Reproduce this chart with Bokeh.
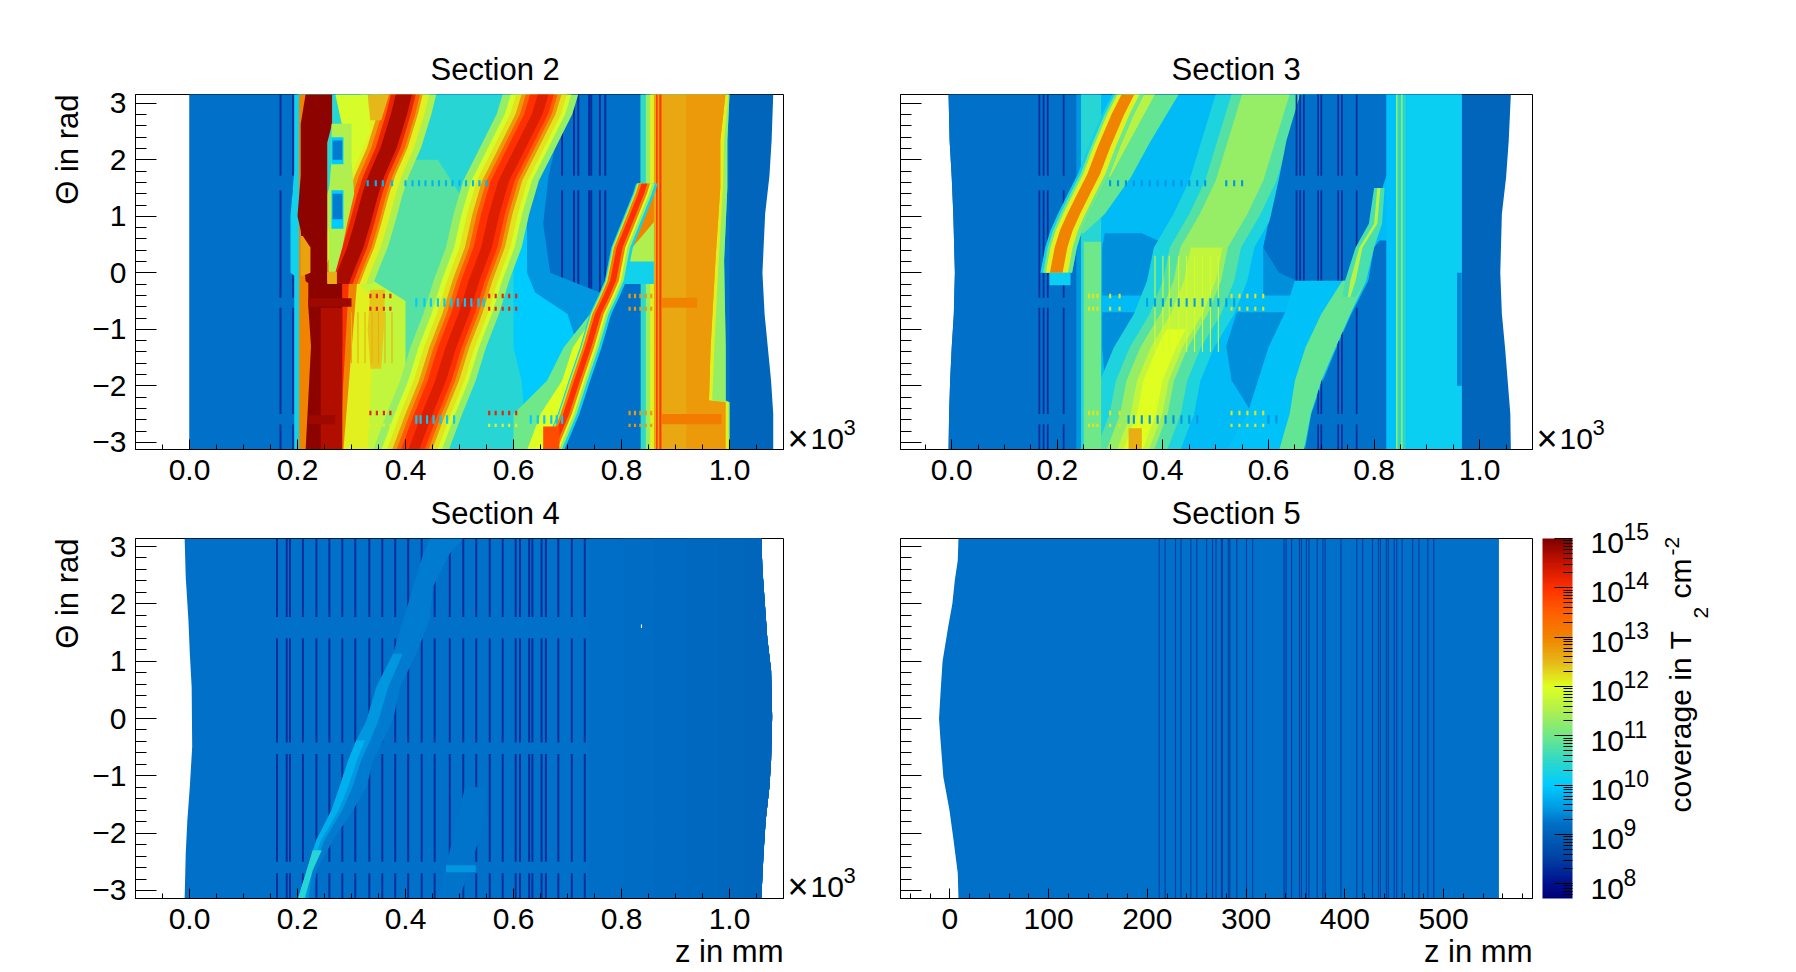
from math import pi
import numpy as np
from bokeh.embed import file_html
from bokeh.layouts import column, row
from bokeh.models import ColorBar, ColumnDataSource, FixedTicker, Label, LinearColorMapper, Range1d, NumeralTickFormatter, Title
from bokeh.plotting import figure
from bokeh.resources import INLINE
from bokeh.transform import transform

FONT = "Liberation Sans"
LOG_LOW, LOG_HIGH = 7.7, 15.0
COLOR_LOG = [7.7, 8.0, 8.5, 9.0, 9.22, 9.5, 10.0, 10.5, 11.0, 11.5, 12.0, 12.5, 13.0, 13.5, 14.0, 14.5, 15.0]
COLOR_HEX = ["#000078", "#00108C", "#0040A4", "#0062B8", "#0070C8", "#0096E0", "#00CCFF", "#30D8C8", "#70E888",
             "#AEF050", "#DFFF20", "#E6B818", "#F08400", "#FF6000", "#FF3000", "#C81400", "#800000"]

THETA_TICKS = [-3, -2, -1, 0, 1, 2, 3]
Z_TICKS = [0.0, 0.2, 0.4, 0.6, 0.8, 1.0]
Z5_TICKS = [0, 100, 200, 300, 400, 500]
COLOR_TICKS = [8, 9, 10, 11, 12, 13, 14, 15]
SECTION_NAMES = ["Section 2", "Section 3", "Section 4", "Section 5"]

GAPS_TOP = [(1.72, 1.46), (-0.44, -0.62), (-2.5, -2.68)]
GAPS_BOTTOM = [(1.77, 1.40), (-0.42, -0.62), (-2.50, -2.70)]

# ---------- Section 2 (z in 10^3 mm, theta in rad, values are log10 coverage) ----------
S2_ENV_THETA = [3.16, 2.34, 1.72, 1.04, 0, -0.73, -1.32, -1.91, -2.5, -3.14]
S2_ENV_RIGHT = [1.081, 1.078, 1.074, 1.066, 1.061, 1.065, 1.071, 1.077, 1.081, 1.081]
S2_DARK_Z = [0.1685, 0.192, 0.690, 0.712, 0.72, 0.74, 0.744, 0.76, 0.77]

S2_FILL_THETA = [3.16, 2.34, 1.72, 0.87, 0, -0.35, -0.73, -1.32, -1.91, -2.5, -3.14]
S2_BLUE_RIGHT = [0.70, 0.68, 0.665, 0.655, 0.668, 0.76, 0.755, 0.737, 0.716, 0.696, 0.675]
S2_CYAN_RIGHT = [0.685, 0.66, 0.64, 0.625, 0.625, 0.64, 0.70, 0.72, 0.70, 0.69, 0.67]
S2_TEAL_RIGHT = [0.67, 0.645, 0.625, 0.60, 0.60, 0.60, 0.60, 0.60, 0.615, 0.62, 0.60]

S2_B3_THETA = [-3.14, -2.5, -1.91, -1.32, -0.73, -0.43, -0.14, 0.45, 1.04, 1.40, 1.58]
S2_B3_C = [0.668, 0.696, 0.716, 0.737, 0.755, 0.770, 0.783, 0.795, 0.820, 0.835, 0.841]
S2_B3_LEVELS = [(10.2, 0.014, 0.026), (11.3, 0.012, 0.021), (12.0, 0.010, 0.016), (13.0, 0.009, 0.012), (14.0, 0.004, 0.007)]
S2_FAN_THETA = [-0.75, -1.32, -1.91, -2.5, -3.14]
S2_FAN_RIGHT = [0.755, 0.737, 0.716, 0.696, 0.668]
S2_FAN_GREEN_LEFT = [0.74, 0.693, 0.662, 0.60, 0.60]
S2_FAN_YELLOW_LEFT = [0.75, 0.71, 0.69, 0.65, 0.625]

S2_EDGE_THETA = [3.16, 2.34, 1.51, 0.22, -1.32, -2.26, -2.29, -3.14]
S2_EDGE_TEAL = [1.0, 0.996, 0.996, 0.99, 0.993, 0.993, 1.0, 1.0]
S2_EDGE_YELLOW = [0.998, 0.99, 0.988, 0.98, 0.972, 0.968, 0.998, 0.998]
S2_EDGE_ORANGE = [0.9926, 0.983, 0.983, 0.974, 0.965, 0.962, 0.9926, 0.9926]

S2_B2_THETA = [3.16, 2.81, 2.22, 1.63, 1.04, 0.45, -0.14, -0.73, -1.32, -1.91, -2.5, -3.14]
S2_B2_C = [0.655, 0.644, 0.613, 0.582, 0.564, 0.550, 0.527, 0.508, 0.484, 0.465, 0.44, 0.415]
S2_B2_LEVELS = [(11.3, 0.075, 0.065), (11.9, 0.06, 0.052), (12.2, 0.05, 0.044), (12.8, 0.04, 0.034), (13.5, 0.032, 0.027), (14.0, 0.024, 0.02), (14.3, 0.01, 0.01)]

S2_B1_THETA = [3.16, 2.81, 2.22, 1.72, 1.40, 0.87, 0.45, 0.1, -0.2]
S2_B1_C = [0.397, 0.388, 0.369, 0.346, 0.335, 0.32, 0.307, 0.292, 0.28]
S2_B1_LEVELS = [(11.5, 0.08, 0.06), (12.1, 0.06, 0.047), (12.8, 0.04, 0.035), (13.5, 0.032, 0.03), (14.2, 0.024, 0.022), (14.7, 0.015, 0.015)]

S2_HOT_THETA = [3.16, 2.64, 2.3, 1.72, 1.0, 0.75, -0.15, -0.18, -0.6, -1.3, -3.14]
S2_HOT_LEFT = [0.215, 0.206, 0.206, 0.206, 0.200, 0.206, 0.215, 0.22, 0.22, 0.225, 0.215]
S2_HOT_RIGHT = [0.264, 0.264, 0.255, 0.255, 0.255, 0.255, 0.255, 0.283, 0.283, 0.283, 0.27]
S2_POCKET_THETA = [2.64, 2.34, 1.99, 1.4, 0.87, 0.45, 0.0]
S2_POCKET_LEFT = [0.263, 0.263, 0.263, 0.258, 0.258, 0.258, 0.258]
S2_POCKET_RIGHT = [0.30, 0.30, 0.30, 0.305, 0.292, 0.283, 0.27]

S2_THIN_LOW_Z = [0.30, 0.312, 0.325, 0.338, 0.35, 0.362, 0.375]
S2_DASH_A = [0.33, 0.345, 0.358, 0.375, 0.40, 0.413, 0.425, 0.437, 0.45, 0.462, 0.475, 0.487, 0.50, 0.512, 0.525, 0.537, 0.55]
S2_DASH_B = [0.42, 0.435, 0.447, 0.46, 0.472, 0.485, 0.497, 0.51, 0.522, 0.535, 0.545]
S2_DASH_B_HOT = [0.335, 0.347, 0.36, 0.372, 0.555, 0.567, 0.58, 0.592, 0.605]
S2_DASH_C = [0.42, 0.428, 0.44, 0.452, 0.465, 0.477, 0.49, 0.632, 0.645, 0.657, 0.67, 0.68, 0.69]
S2_DASH_C_HOT = [0.335, 0.347, 0.36, 0.372, 0.555, 0.567, 0.58, 0.592, 0.605]
S2_DASH_RIGHT = [0.815, 0.825, 0.835, 0.845, 0.855]

# ---------- Section 3 ----------
S3_ENV_THETA = [3.16, 2.34, 1.69, 1.04, 0, -0.73, -1.32, -1.91, -2.5, -3.14]
S3_ENV_LEFT = [-0.006, -0.004, 0.0, 0.003, 0.006, 0.004, 0.0, -0.003, -0.005, -0.006]
S3_ENV_RIGHT = [1.059, 1.055, 1.05, 1.042, 1.039, 1.042, 1.048, 1.053, 1.058, 1.059]
S3_DARK_Z = [0.166, 0.174, 0.182, 0.212, 0.653, 0.66, 0.667, 0.694, 0.70, 0.732, 0.739, 0.767]

S3_BLUE_THETA = [3.16, 2.34, 1.72, 1.04, 0.45, 0.0, -0.25]
S3_BLUE_LEFT = [0.66, 0.634, 0.621, 0.605, 0.59, 0.62, 0.68]
S3_BLUE_RIGHT = [0.823, 0.823, 0.823, 0.80, 0.79, 0.77, 0.74]
S3_LOW_THETA = [0.57, 0.45, -0.14, -0.73, -1.32, -1.91, -2.5, -3.14]
S3_LOW_LEFT = [0.81, 0.80, 0.789, 0.757, 0.729, 0.703, 0.681, 0.669]

S3_NARROW_THETA = [3.16, 2.81, 2.22, 1.75, 1.40, 1.04, 0.75, 0.45, 0.0]
S3_NARROW_C = [0.334, 0.315, 0.288, 0.269, 0.25, 0.231, 0.217, 0.207, 0.198]
S3_NARROW_LEVELS = [(10.2, 0.03, 0.03), (11.0, 0.025, 0.03), (12.1, 0.02, 0.022), (13.0, 0.012, 0.012)]
S3_FLANK_THETA = [3.16, 2.3, 1.7, 1.04, 0.7]
S3_FLANK_LEFT = [0.33, 0.285, 0.26, 0.23, 0.22]
S3_FLANK_RIGHT = [0.43, 0.375, 0.34, 0.29, 0.25]

S3_WIDE_THETA = [3.16, 1.63, 1.04, 0.45, -0.14, -0.73, -1.32, -1.91, -2.5, -3.14]
S3_WIDE_C = [0.60, 0.55, 0.52, 0.483, 0.47, 0.445, 0.407, 0.381, 0.369, 0.343]
S3_WIDE_LEVELS = [(10.3, 0.10, 0.09), (10.8, 0.07, 0.065), (11.3, 0.05, 0.04)]
S3_YELLOW_THETA = [0.45, -0.14, -0.73, -1.32, -1.91, -2.5, -3.14]
S3_YELLOW_C = [0.483, 0.47, 0.445, 0.407, 0.381, 0.369, 0.343]
S3_YELLOW_LEVELS = [(11.7, 0.03, 0.03)]
S3_CORE_THETA = [-1.0, -1.32, -1.91, -2.5, -3.14]
S3_CORE_C = [0.425, 0.407, 0.381, 0.369, 0.343]
S3_CORE_LEVELS = [(12.0, 0.018, 0.018)]
S3_THIN_Z = [0.385, 0.40, 0.412, 0.43, 0.445, 0.46, 0.475, 0.49, 0.505]

S3_FAN_THETA = [-0.14, -0.73, -1.32, -1.91, -2.5, -3.14]
S3_FAN_RIGHT = [0.785, 0.755, 0.727, 0.70, 0.68, 0.667]
S3_FAN_CYAN_LEFT = [0.65, 0.63, 0.60, 0.58, 0.56, 0.52]
S3_FAN_GREEN_LEFT = [0.74, 0.70, 0.67, 0.65, 0.64, 0.62]
S3_RIDGE_THETA = [1.5, 0.87, 0.45, -0.14, -0.43]
S3_RIDGE_LEFT = [0.80, 0.79, 0.765, 0.745, 0.74]
S3_RIDGE_RIGHT = [0.82, 0.815, 0.80, 0.785, 0.765]

S3_DARK_BLOBS = [
    ([0.7, 0.45, 0.0, -0.4], [0.29, 0.285, 0.285, 0.285], [0.36, 0.42, 0.44, 0.38]),
    ([-0.7, -1.3, -1.9, -2.2], [0.285, 0.285, 0.29, 0.30], [0.37, 0.355, 0.33, 0.32]),
    ([-0.7, -1.3, -1.9, -2.5], [0.54, 0.52, 0.53, 0.57], [0.66, 0.66, 0.63, 0.6]),
    ([1.4, 0.45, -0.4], [0.61, 0.59, 0.59], [0.66, 0.66, 0.70]),
]
S3_DASH_A = [0.30, 0.315, 0.33, 0.345, 0.36, 0.375, 0.39, 0.405, 0.42, 0.435, 0.45, 0.465, 0.48, 0.52, 0.535, 0.55]
S3_DASH_B = [0.37, 0.385, 0.40, 0.415, 0.43, 0.445, 0.46, 0.475, 0.49, 0.505, 0.52, 0.535]
S3_DASH_B_HOT = [0.26, 0.268, 0.276, 0.30, 0.318, 0.53, 0.545, 0.56, 0.575, 0.59]
S3_DASH_C = [0.335, 0.345, 0.36, 0.375, 0.39, 0.405, 0.42, 0.435, 0.45, 0.465, 0.60, 0.615]

# ---------- Section 4 ----------
S4_ENV_THETA = [3.14, 2.47, 1.72, 1.13, 0.55, -0.49, -1.19, -1.78, -2.36, -3.14]
S4_ENV_LEFT = [-0.009, -0.007, -0.002, 0.0006, 0.004, 0.005, 0.0006, -0.004, -0.007, -0.009]
S4_RIGHT_THETA = [3.14, 2.6, 1.8, 1.4, 0.84, 0.03, -0.73, -1.19, -1.78, -2.36, -3.14]
S4_ENV_RIGHT = [1.059, 1.061, 1.067, 1.07, 1.077, 1.079, 1.077, 1.074, 1.067, 1.063, 1.059]
S4_SHADE_Z = [0.74, 0.80, 0.86, 0.92, 0.98, 1.03]
S4_SHADE_VALUE = [9.2, 9.17, 9.14, 9.11, 9.08, 9.05]
S4_DARK_Z = [0.162, 0.180, 0.186, 0.210, 0.235, 0.259, 0.283, 0.307, 0.333, 0.357, 0.381, 0.405, 0.430, 0.454, 0.482,
             0.507, 0.531, 0.556, 0.580, 0.604, 0.612, 0.629, 0.635, 0.652, 0.660, 0.683, 0.708, 0.732]
S4_BAND_THETA = [-3.14, -2.65, -2.12, -1.6, -1.19, -0.73, -0.38, -0.03, 0.55, 1.13, 1.72, 2.3, 2.88, 3.14]
S4_BAND_LEFT = [0.201, 0.217, 0.235, 0.263, 0.278, 0.294, 0.309, 0.328, 0.346, 0.377, 0.396, 0.414, 0.433, 0.445]
S4_BAND_RIGHT = [0.229, 0.235, 0.266, 0.303, 0.328, 0.34, 0.359, 0.377, 0.39, 0.42, 0.445, 0.451, 0.482, 0.507]
S4_CORE_THETA = [-3.14, -2.65, -2.12, -1.6, -1.19, -0.73, -0.38, -0.03, 0.55, 1.13]
S4_CORE_RIGHT = [0.22, 0.228, 0.25, 0.283, 0.302, 0.318, 0.335, 0.35, 0.368, 0.395]
S4_LOWER_THETA = [-3.14, -2.65, -2.12, -1.6, -1.19, -0.73, -0.38]
S4_LOWER_RIGHT = [0.215, 0.224, 0.244, 0.276, 0.294, 0.31, 0.325]
S4_TIP_THETA = [-3.14, -2.65, -2.3]
S4_TIP_LEFT = [0.201, 0.217, 0.228]
S4_TIP_RIGHT = [0.213, 0.228, 0.245]
S4_SPECK_Z = [0.837]
S4_SPECK_THETA = [1.61]

# ---------- Section 5 ----------
S5_ENV_THETA = [3.14, 2.76, 2.41, 2.0, 1.6, 1.0, 0.44, 0, -0.38, -1.02, -1.6, -2.12, -2.7, -3.14]
S5_ENV_LEFT = [8.7, 8, 5, 2.5, -1.7, -7.4, -9.5, -11, -9.5, -6.6, -0.4, 3.7, 8, 8.7]
S5_RIGHT = 556
S5_DARK_Z = [212, 218, 228.5, 234, 244, 250, 260, 266, 269.5, 275, 276, 282, 283.5, 290.5, 300.4, 306.6, 338.4, 340.5,
             346, 354, 356, 361, 363.6, 372, 377.7, 380, 396, 412, 418, 428, 434, 436, 442, 444, 450, 452.5, 458, 468.6,
             475, 484, 490]

BASE = 9.22
BASE_DARK = 9.05
LINE = 8.3


def rect(out, v, z0, z1, t0, t1):
    out.append((v, [z0, z1, z1, z0], [t0, t0, t1, t1]))


def strip(out, v, thetas, left, right):
    lf = left if isinstance(left, (list, tuple)) else [left] * len(thetas)
    rt = right if isinstance(right, (list, tuple)) else [right] * len(thetas)
    out.append((v, list(lf) + list(rt)[::-1], list(thetas) + list(thetas)[::-1]))


def band(out, thetas, centers, levels):
    for v, wl, wr in levels:
        strip(out, v, thetas, [c - wl for c in centers], [c + wr for c in centers])


def lines(out, zs, gaps, width, top, bottom, v=LINE):
    edges = [top] + [t for g in gaps for t in g] + [bottom]
    for z in zs:
        for i in range(0, len(edges), 2):
            rect(out, v, z - width / 2, z + width / 2, edges[i + 1], edges[i])


def dashes(out, zs, v, t0, t1, width=0.004):
    for z in zs:
        rect(out, v, z - width / 2, z + width / 2, t0, t1)


def section2():
    o = []
    strip(o, BASE_DARK, S2_ENV_THETA, 0.0, S2_ENV_RIGHT)
    rect(o, BASE, 0.0, 1.0, -3.14, 3.16)
    lines(o, S2_DARK_Z, GAPS_TOP, 0.0036, 3.16, -3.14)
    strip(o, 9.5, S2_FILL_THETA, 0.2, S2_BLUE_RIGHT)
    strip(o, 10.0, S2_FILL_THETA, 0.2, S2_CYAN_RIGHT)
    strip(o, 10.4, S2_FILL_THETA, 0.2, S2_TEAL_RIGHT)
    strip(o, 10.8, [2.0, 1.4, 0.4, -0.8, -1.9, -3.14], 0.3, [0.46, 0.5, 0.52, 0.55, 0.4, 0.38])
    strip(o, 11.0, S2_FAN_THETA, S2_FAN_GREEN_LEFT, S2_FAN_RIGHT)
    strip(o, 12.0, S2_FAN_THETA, S2_FAN_YELLOW_LEFT, S2_FAN_RIGHT)
    # right hand columns
    strip(o, 10.5, S2_EDGE_THETA, 0.835, S2_EDGE_TEAL)
    strip(o, 11.3, S2_EDGE_THETA, 0.845, S2_EDGE_TEAL)
    strip(o, 12.1, S2_EDGE_THETA, 0.853, S2_EDGE_YELLOW)
    strip(o, 12.65, S2_EDGE_THETA, 0.860, S2_EDGE_ORANGE)
    strip(o, 12.8, S2_EDGE_THETA, 0.92, S2_EDGE_ORANGE)
    strip(o, 9.22, [-0.2, -0.9, -1.5, -2.2, -3.14], [0.79, 0.77, 0.75, 0.72, 0.69], 0.835)
    rect(o, 13.9, 0.864, 0.867, -3.14, 3.16)
    rect(o, 13.9, 0.870, 0.874, -3.14, 3.16)
    rect(o, 13.1, 0.875, 0.985, -2.68, -2.5)
    rect(o, 13.0, 0.875, 0.94, -0.62, -0.44)
    # upper flank of the narrow band
    strip(o, 10.2, [1.45, 0.6, -0.15, -0.2], [0.83, 0.80, 0.775, 0.775], 0.86)
    strip(o, 11.5, [1.45, 0.6, 0.2], [0.84, 0.81, 0.79], 0.86)
    strip(o, 13.0, [1.45, 0.9, 0.45], [0.84, 0.82, 0.80], [0.86, 0.86, 0.82])
    band(o, S2_B3_THETA, S2_B3_C, S2_B3_LEVELS)
    rect(o, 13.7, 0.655, 0.685, -3.14, -2.72)
    # vertical flanks of the hot region, lower half
    strip(o, 11.7, [0.1, -0.5, -3.14], 0.24, [0.30, 0.40, 0.40])
    strip(o, 12.1, [0.0, -0.5, -3.14], 0.24, [0.295, 0.345, 0.33])
    strip(o, 13.0, [-0.2, -3.14], 0.24, [0.31, 0.285])
    strip(o, 14.0, [-0.2, -3.14], 0.24, [0.295, 0.278])
    strip(o, 12.4, [-0.3, -1.0, -1.7], [0.335, 0.33, 0.335], [0.362, 0.36, 0.355])
    dashes(o, S2_THIN_LOW_Z, 12.6, -1.6, -0.7, 0.002)
    band(o, S2_B2_THETA, S2_B2_C, S2_B2_LEVELS)
    band(o, S2_B1_THETA, S2_B1_C, S2_B1_LEVELS)
    strip(o, 11.9, [3.16, 2.5, 1.75], [0.27, 0.285, 0.30], [0.33, 0.335, 0.30])
    strip(o, 12.5, [3.16, 2.7], [0.33, 0.335], [0.37, 0.355])
    strip(o, 10.2, [3.16, 1.8, 1.0, 0, -0.05, -3.14], [0.194, 0.194, 0.187, 0.187, 0.194, 0.194], 0.22)
    strip(o, 13.0, S2_HOT_THETA, 0.203, S2_HOT_RIGHT)
    strip(o, 14.9, S2_HOT_THETA, S2_HOT_LEFT, S2_HOT_RIGHT)
    rect(o, 14.65, 0.243, 0.283, -3.14, -0.62)
    strip(o, 12.7, [0.65, 0.45, 0, -0.05], 0.206, [0.21, 0.224, 0.224, 0.21])
    strip(o, 11.5, S2_POCKET_THETA, S2_POCKET_LEFT, S2_POCKET_RIGHT)
    rect(o, 12.6, 0.255, 0.273, -0.2, 0.02)
    rect(o, 10.0, 0.263, 0.285, 1.92, 2.4)
    rect(o, 9.3, 0.265, 0.283, 2.0, 2.34)
    rect(o, 10.0, 0.263, 0.285, 0.78, 1.46)
    rect(o, 9.3, 0.265, 0.283, 0.95, 1.40)
    # horizontal stripes
    rect(o, 14.8, 0.22, 0.30, -0.6, -0.45)
    rect(o, 14.8, 0.22, 0.27, -2.68, -2.52)
    dashes(o, S2_DASH_A, 9.8, 1.53, 1.64)
    dashes(o, S2_DASH_B, 10.0, -0.60, -0.45)
    dashes(o, S2_DASH_B_HOT, 14.2, -0.45, -0.37)
    dashes(o, S2_DASH_B_HOT, 14.2, -0.67, -0.60)
    dashes(o, S2_DASH_C, 10.0, -2.67, -2.52)
    dashes(o, S2_DASH_C_HOT, 14.2, -2.52, -2.44)
    dashes(o, S2_DASH_C_HOT, 12.1, -2.73, -2.67)
    dashes(o, S2_DASH_RIGHT, 12.8, -0.45, -0.37)
    dashes(o, S2_DASH_RIGHT, 12.8, -0.67, -0.60)
    dashes(o, S2_DASH_RIGHT, 12.8, -2.52, -2.44)
    dashes(o, S2_DASH_RIGHT, 12.8, -2.73, -2.67)
    return o


def section3():
    o = []
    strip(o, BASE_DARK, S3_ENV_THETA, S3_ENV_LEFT, S3_ENV_RIGHT)
    strip(o, BASE, S3_ENV_THETA, S3_ENV_LEFT, 0.966)
    rect(o, 9.5, 0.236, 0.245, -3.14, 3.16)
    rect(o, 9.85, 0.245, 0.966, -3.14, 3.16)
    rect(o, 10.4, 0.245, 0.283, -3.14, 3.16)
    for blob_t, blob_l, blob_r in S3_DARK_BLOBS:
        strip(o, 9.45, blob_t, blob_l, blob_r)
    band(o, S3_WIDE_THETA, S3_WIDE_C, S3_WIDE_LEVELS)
    band(o, S3_YELLOW_THETA, S3_YELLOW_C, S3_YELLOW_LEVELS)
    band(o, S3_CORE_THETA, S3_CORE_C, S3_CORE_LEVELS)
    dashes(o, S3_THIN_Z, 11.9, -1.4, 0.3, 0.002)
    rect(o, 12.6, 0.335, 0.36, -3.14, -2.75)
    rect(o, 11.0, 0.25, 0.283, -3.14, 0.55)
    # columns on the right
    rect(o, 9.9, 0.823, 0.842, -3.14, 3.16)
    rect(o, 10.4, 0.842, 0.861, -3.14, 3.16)
    rect(o, 10.1, 0.861, 0.966, -3.14, 3.16)
    rect(o, 11.3, 0.8415, 0.8445, -3.14, 3.16)
    rect(o, 11.3, 0.851, 0.854, -3.14, 3.16)
    rect(o, 9.4, 0.957, 0.966, -2.0, 0.0)
    # blue, empty regions
    strip(o, BASE, S3_BLUE_THETA, S3_BLUE_LEFT, S3_BLUE_RIGHT)
    strip(o, BASE, S3_LOW_THETA, S3_LOW_LEFT, 0.823)
    lines(o, S3_DARK_Z, GAPS_TOP, 0.0032, 3.16, -3.14)
    strip(o, 9.9, S3_FAN_THETA, S3_FAN_CYAN_LEFT, S3_FAN_RIGHT)
    strip(o, 10.9, S3_FAN_THETA, S3_FAN_GREEN_LEFT, S3_FAN_RIGHT)
    strip(o, 10.7, S3_RIDGE_THETA, S3_RIDGE_LEFT, S3_RIDGE_RIGHT)
    strip(o, 11.6, S3_RIDGE_THETA, [0.806, 0.80, 0.772, 0.755, 0.75], [0.812, 0.806, 0.778, 0.765, 0.755])
    strip(o, 10.9, S3_FLANK_THETA, S3_FLANK_LEFT, S3_FLANK_RIGHT)
    strip(o, 11.6, [3.16, 2.3, 1.7], [0.33, 0.285, 0.26], [0.385, 0.335, 0.30])
    band(o, S3_NARROW_THETA, S3_NARROW_C, S3_NARROW_LEVELS)
    rect(o, 10.1, 0.185, 0.225, -0.22, 0.0)
    # horizontal stripes
    dashes(o, S3_DASH_A, 9.5, 1.53, 1.64)
    dashes(o, S3_DASH_B, 9.6, -0.60, -0.45)
    dashes(o, S3_DASH_B_HOT, 12.2, -0.45, -0.37)
    dashes(o, S3_DASH_B_HOT, 12.2, -0.67, -0.60)
    dashes(o, S3_DASH_C, 9.5, -2.67, -2.52)
    dashes(o, S3_DASH_B_HOT, 12.2, -2.52, -2.44)
    dashes(o, S3_DASH_B_HOT, 12.2, -2.73, -2.67)
    return o


def section4():
    o = []
    o.append((BASE, list(S4_ENV_RIGHT) + list(S4_ENV_LEFT)[::-1], list(S4_RIGHT_THETA) + list(S4_ENV_THETA)[::-1]))
    for z0, v in zip(S4_SHADE_Z, S4_SHADE_VALUE):
        xs = list(S4_ENV_RIGHT) + [z0, z0]
        o.append((v, xs, list(S4_RIGHT_THETA) + [-3.14, 3.14]))
    lines(o, S4_DARK_Z, GAPS_BOTTOM, 0.0036, 3.14, -3.14)
    strip(o, 9.3, S4_BAND_THETA, S4_BAND_LEFT, S4_BAND_RIGHT)
    strip(o, 9.5, S4_CORE_THETA, S4_BAND_LEFT[:10], S4_CORE_RIGHT)
    strip(o, 9.75, S4_LOWER_THETA, S4_BAND_LEFT[:7], S4_LOWER_RIGHT)
    strip(o, 10.4, S4_TIP_THETA, S4_TIP_LEFT, S4_TIP_RIGHT)
    strip(o, 9.25, [-1.2, -2.0, -3.14], [0.51, 0.49, 0.46], [0.55, 0.54, 0.50])
    rect(o, 9.5, 0.475, 0.53, -2.68, -2.56)
    rect(o, 16.0, S4_SPECK_Z[0] - 0.001, S4_SPECK_Z[0] + 0.001, S4_SPECK_THETA[0] - 0.03, S4_SPECK_THETA[0] + 0.03)
    return o


def section5():
    o = []
    strip(o, BASE, S5_ENV_THETA, S5_ENV_LEFT, S5_RIGHT)
    lines(o, S5_DARK_Z, [], 1.1, 3.14, -3.14, v=8.45)
    return o


stops = np.linspace(LOG_LOW, LOG_HIGH, 256)
channels = [[int(c[i:i + 2], 16) for c in COLOR_HEX] for i in (1, 3, 5)]
palette = ["#%02x%02x%02x" % tuple(int(round(np.interp(s, COLOR_LOG, ch))) for ch in channels) for s in stops]
mapper = LinearColorMapper(palette=palette, low=LOG_LOW, high=LOG_HIGH, high_color="#ffffff")


def minor(lo, hi, step):
    return [round(lo + i * step, 4) for i in range(int(round((hi - lo) / step)) + 1)]


def panel(polys, x_range, y_range, frame_w, frame_h, b_left, b_top, b_bottom, show_y, show_x_title, xticks, xminor, xfmt):
    p = figure(frame_width=frame_w, frame_height=frame_h, x_range=Range1d(*x_range), y_range=Range1d(*y_range),
               toolbar_location=None, output_backend="svg", min_border_left=b_left, min_border_right=1,
               min_border_top=b_top, min_border_bottom=b_bottom, background_fill_color="white",
               border_fill_color="white", outline_line_color="black", outline_line_width=1)
    src = ColumnDataSource(dict(xs=[q[1] for q in polys], ys=[q[2] for q in polys], v=[q[0] for q in polys]))
    p.patches("xs", "ys", source=src, fill_color=transform("v", mapper), line_color=None)
    p.grid.visible = False
    ax = p.xaxis[0]
    ax.ticker = FixedTicker(ticks=xticks, minor_ticks=xminor)
    ax.formatter = NumeralTickFormatter(format=xfmt)
    ax.major_tick_in, ax.major_tick_out, ax.minor_tick_in, ax.minor_tick_out = 10, 0, 5, 0
    ax.major_label_text_font, ax.major_label_text_font_size = FONT, "30px"
    ax.major_label_text_color = "black"
    ax.major_label_standoff = 10
    ay = p.yaxis[0]
    ay.ticker = FixedTicker(ticks=THETA_TICKS, minor_ticks=minor(-3.0, 3.0, 0.2))
    ay.major_tick_in, ay.major_tick_out, ay.minor_tick_in, ay.minor_tick_out = 21, 0, 11, 0
    ay.major_label_text_font, ay.major_label_text_font_size = FONT, "30px"
    ay.major_label_text_color = "black"
    ay.major_label_standoff = 9
    if show_y:
        ay.major_label_overrides = {t: str(t).replace("-", "\u2212") for t in THETA_TICKS}
        p.add_layout(Title(text="\u0398 in rad", align="right", standoff=10, text_font=FONT, text_font_size="31px",
                           text_font_style="normal", text_color="black"), "left")
    else:
        ay.major_label_overrides = {t: "" for t in THETA_TICKS}
    if show_x_title:
        p.add_layout(Title(text="z in mm", align="right", standoff=0, text_font=FONT, text_font_size="31px",
                           text_font_style="normal", text_color="black"), "below")
    for a in (ax, ay):
        a.axis_line_color = "black"
        a.major_tick_line_color = "black"
        a.minor_tick_line_color = "black"
    return p


def canvas(x0, x1, y0, y1, b_left=0, b_right=0):
    """Frameless figure whose frame spans page pixels x0..x1, y0..y1, used only to hold texts."""
    p = figure(frame_width=x1 - x0, frame_height=y1 - y0, x_range=Range1d(x0, x1), y_range=Range1d(y1, y0),
               toolbar_location=None, output_backend="svg", min_border=0, min_border_left=b_left,
               min_border_right=b_right, x_axis_location=None, y_axis_location=None, outline_line_color=None,
               background_fill_color=None, border_fill_color=None)
    p.grid.visible = False
    return p


def put(p, px, py, text, size, angle=0.0, align="left"):
    p.add_layout(Label(x=px, y=py, text=text, angle=angle, text_font=FONT, text_font_size=f"{size}px",
                       text_align=align, text_baseline="middle", text_color="black"))


def scale_mark(p, x, main_y, exp_y):
    put(p, x, main_y, "\u00d7", 36)
    put(p, x + 23, main_y, "10", 30)
    put(p, x + 56, exp_y, "3", 22)


Z_MINOR = minor(-0.1, 1.1, 0.05)
Z5_MINOR = minor(-40, 580, 20)

# row / column geometry in page pixels
COL_A = (135, 783)
COL_C = (900, 1532)
ROW_1 = (94, 449)
ROW_2 = (538, 898)
SPLIT_Y = 496
TOP_PAD = 8
PAGE_BOTTOM = 968
PAGE_RIGHT = 1780

p2 = panel(section2(), (-0.1, 1.1), (-3.127, 3.156), COL_A[1] - COL_A[0], ROW_1[1] - ROW_1[0], COL_A[0], TOP_PAD, SPLIT_Y - ROW_1[1],
           True, False, Z_TICKS, Z_MINOR, "0.0")
p3 = panel(section3(), (-0.097, 1.1), (-3.127, 3.156), COL_C[1] - COL_C[0], ROW_1[1] - ROW_1[0], 1, TOP_PAD, SPLIT_Y - ROW_1[1],
           False, False, Z_TICKS, Z_MINOR, "0.0")
p4 = panel(section4(), (-0.1, 1.1), (-3.14, 3.14), COL_A[1] - COL_A[0], ROW_2[1] - ROW_2[0], COL_A[0], TOP_PAD, PAGE_BOTTOM - ROW_2[1],
           True, True, Z_TICKS, Z_MINOR, "0.0")
p5 = panel(section5(), (-50, 590), (-3.14, 3.14), COL_C[1] - COL_C[0], ROW_2[1] - ROW_2[0], 1, TOP_PAD, PAGE_BOTTOM - ROW_2[1],
           False, True, Z5_TICKS, Z5_MINOR, "0")

# title strips above each panel (their frames line up with the frames of the panels)
top_a = canvas(COL_A[0], COL_A[1], 0, ROW_1[0] - TOP_PAD, COL_A[0], 1)
put(top_a, 430, 69, SECTION_NAMES[0], 31)
top_c = canvas(COL_C[0], COL_C[1], 0, ROW_1[0] - TOP_PAD, 1, 1)
put(top_c, 1171, 69, SECTION_NAMES[1], 31)
mid_a = canvas(COL_A[0], COL_A[1], SPLIT_Y, ROW_2[0] - TOP_PAD, COL_A[0], 1)
put(mid_a, 430, 513, SECTION_NAMES[2], 31)
mid_c = canvas(COL_C[0], COL_C[1], SPLIT_Y, ROW_2[0] - TOP_PAD, 1, 1)
put(mid_c, 1171, 513, SECTION_NAMES[3], 31)

# strip between the columns, holding the x10^3 scale of the left panels
gap = canvas(COL_A[1] + 1, COL_C[0] - 1, 0, PAGE_BOTTOM)
scale_mark(gap, 787, 438, 427)
scale_mark(gap, 787, 886, 875)

# strip on the right, holding the colour bar and its texts
side = canvas(COL_C[1] + 1, PAGE_RIGHT, 0, PAGE_BOTTOM)
scale_mark(side, 1536, 438, 427)
cminor = [round(d + float(np.log10(k)), 4) for d in range(7, 15) for k in range(2, 10)]
cb = ColorBar(color_mapper=mapper, ticker=FixedTicker(ticks=COLOR_TICKS, minor_ticks=[m for m in cminor if LOG_LOW < m < LOG_HIGH]),
              width=30, height=360, margin=0, padding=0, major_tick_in=18, major_tick_out=0, minor_tick_in=9,
              minor_tick_out=0, major_tick_line_color="black", minor_tick_line_color="black", bar_line_color=None,
              major_label_overrides={t: "" for t in COLOR_TICKS}, major_label_text_font=FONT,
              major_label_text_font_size="30px", major_label_text_color="black", label_standoff=18,
              background_fill_color=None, border_line_color=None, location=(9, PAGE_BOTTOM - ROW_2[1]))
side.add_layout(cb)
for t, y_tick in zip(COLOR_TICKS, [884, 834, 785, 736, 686, 637, 587, 538]):
    put(side, 1590, y_tick + 4, "10", 30)
    put(side, 1623, y_tick - 7, str(t), 23)
put(side, 1680, 812, "coverage in T", 30, angle=pi / 2)
put(side, 1700, 618, "2", 21, angle=pi / 2)
put(side, 1680, 598, "cm", 30, angle=pi / 2)
put(side, 1671, 555, "-2", 21, angle=pi / 2)

col_a = column(top_a, p2, mid_a, p4, spacing=0)
col_c = column(top_c, p3, mid_c, p5, spacing=0)
page = row(col_a, gap, col_c, side, spacing=0)
open("out.html", "w").write(file_html(page, INLINE))
